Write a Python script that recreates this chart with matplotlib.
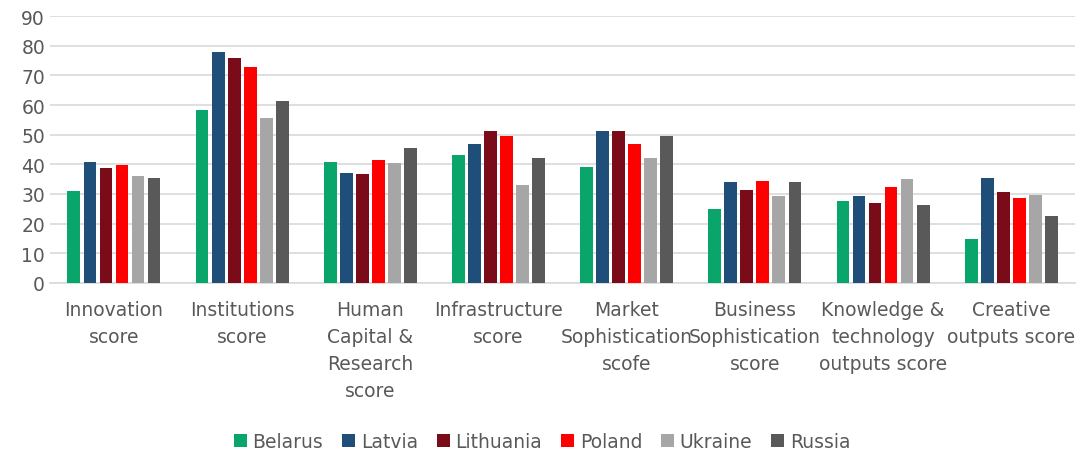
import numpy as np
import matplotlib.pyplot as plt

plt.rcParams['font.family'] = ['Liberation Sans Narrow', 'DejaVu Sans']

# Data
categories = ['Innovation\nscore', 'Institutions\nscore', 'Human\nCapital &\nResearch\nscore',
              'Infrastructure\nscore', 'Market\nSophistication\nscofe', 'Business\nSophistication\nscore',
              'Knowledge &\ntechnology\noutputs score', 'Creative\noutputs score']
countries = ['Belarus', 'Latvia', 'Lithuania', 'Poland', 'Ukraine', 'Russia']
belarus = [31.0, 58.3, 40.7, 43.1, 39.0, 24.8, 27.6, 14.7]
latvia = [40.9, 77.8, 37.2, 46.9, 51.3, 34.2, 29.4, 35.5]
lithuania = [38.9, 75.8, 36.9, 51.1, 51.1, 31.4, 27.0, 30.8]
poland = [39.8, 73.0, 41.5, 49.4, 46.7, 34.5, 32.5, 28.8]
ukraine = [36.2, 55.5, 40.4, 33.0, 42.0, 29.3, 35.0, 29.8]
russia = [35.5, 61.3, 45.4, 42.3, 49.6, 33.9, 26.3, 22.7]
series = [belarus, latvia, lithuania, poland, ukraine, russia]
colors = ['#0AA56A', '#1F4E79', '#7A0C19', '#FF0000', '#A6A6A6', '#595959']

text_col = '#595959'

fig = plt.figure(figsize=(10.84, 4.52), dpi=100)
ax = fig.add_axes([0.046, 0.372, 0.946, 0.59])

x = np.arange(len(categories))
n = len(series)
pitch = 0.125
for i, (vals, c, name) in enumerate(zip(series, colors, countries)):
    ax.bar(x + (i - (n - 1) / 2) * pitch, vals, width=0.1, color=c,
           label=name, zorder=3)

ax.set_xlim(-0.5, len(categories) - 0.5)
ax.set_ylim(0, 90)
ax.set_yticks(np.arange(0, 91, 10))
ax.yaxis.grid(True, color='#D9D9D9', linewidth=1.2, zorder=0)
for s in ['top', 'right', 'left']:
    ax.spines[s].set_visible(False)
ax.spines['bottom'].set_color('#D9D9D9')
ax.spines['bottom'].set_linewidth(1.2)
ax.tick_params(axis='both', length=0, labelsize=13.5, colors=text_col)
ax.tick_params(axis='x', pad=12)
ax.set_xticks(x)
ax.set_xticklabels(categories, linespacing=1.55)

fig.legend(loc='lower center', bbox_to_anchor=(0.5, -0.038), ncol=6, frameon=False,
           fontsize=13.5, labelcolor=text_col, handlelength=0.7, handleheight=0.7,
           handletextpad=0.3, columnspacing=1.0)

fig.savefig('out.png', dpi=100)
